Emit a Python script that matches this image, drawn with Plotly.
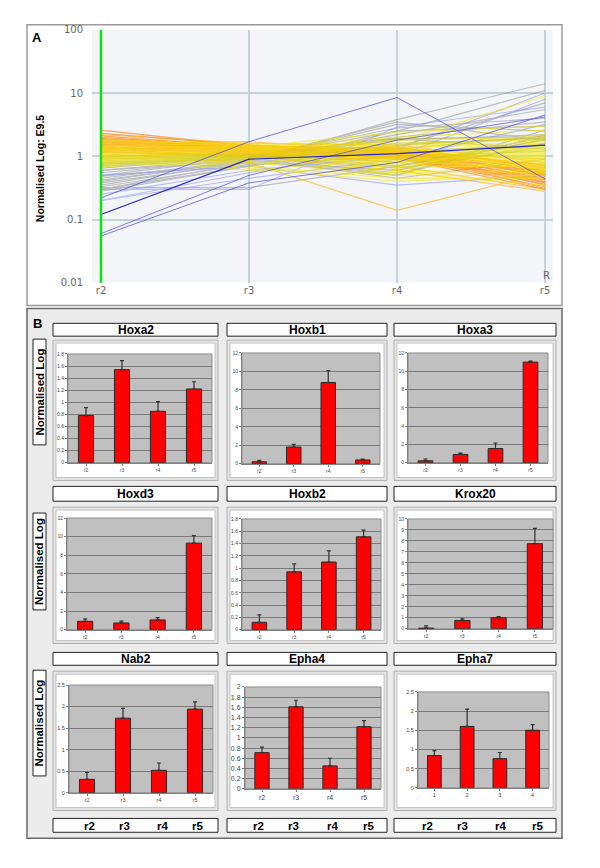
import plotly.graph_objects as go

# page body has an 8px default margin: the figure covers page pixels 8..592 x 8..860
OFF = 8
FW, FH = 584, 852


def px(x):
    return (x - OFF) / FW


def py(y):
    return 1 - (y - OFF) / FH


# ---------------- Panel A data (normalised expression r2, r3, r4, r5) ----------------
regions = ["r2", "r3", "r4", "r5"]
a_ticks = [0.01, 0.1, 1, 10, 100]
a_ticktext = ["0.01", "0.1", "1", "10", "100"]

gray_lines = [
    [0.8, 1.0, 1.8, 2.2], [0.75, 0.95, 2.5, 3.0], [0.7, 0.9, 3.2, 2.5],
    [0.65, 1.0, 2.0, 3.5], [0.6, 0.85, 1.5, 2.0], [0.55, 0.9, 3.5, 1.8],
    [0.5, 0.95, 2.8, 4.0], [0.48, 0.8, 1.2, 1.5], [0.45, 0.88, 0.55, 1.6],
    [0.42, 0.85, 0.5, 2.2], [0.4, 0.9, 1.9, 1.3], [0.38, 0.8, 0.6, 1.9],
    [0.35, 0.85, 2.2, 5.5], [0.33, 0.75, 1.0, 1.2], [0.32, 0.32, 0.7, 2.0],
    [0.3, 0.7, 1.4, 7.0], [0.3, 0.8, 3.8, 14.0], [0.28, 0.7, 2.5, 11.0],
    [0.6, 0.95, 0.45, 0.9], [0.7, 1.05, 0.5, 2.6],
]
lightblue_lines = [
    [0.25, 0.6, 1.0, 8.0], [0.2, 0.55, 1.3, 10.0], [0.3, 0.3, 2.9, 6.0],
    [0.5, 0.7, 0.35, 0.5], [0.2, 0.45, 0.9, 3.2],
]
blue_lines = [
    [0.22, 1.7, 8.5, 0.44], [0.055, 0.38, 0.8, 4.5], [0.06, 0.5, 1.8, 4.2],
]
darkblue_lines = [
    [0.12, 0.9, 1.1, 1.5],
]
orange_lines = [
    [2.6, 1.45, 1.3, 0.72], [2.3, 1.5, 1.25, 0.6], [2.1, 1.4, 1.2, 0.55],
    [2.0, 1.35, 1.35, 0.5], [1.9, 1.3, 1.15, 0.45], [1.85, 1.45, 1.3, 0.42],
    [1.8, 1.25, 1.1, 0.38], [1.75, 1.2, 1.25, 0.35], [1.7, 1.3, 1.0, 0.33],
    [1.65, 1.15, 1.2, 0.31], [1.6, 1.2, 1.4, 0.65], [1.55, 1.1, 0.95, 0.3],
    [1.5, 1.25, 1.15, 0.4], [1.45, 1.05, 1.3, 0.48], [1.4, 1.15, 1.05, 0.36],
    [1.35, 1.1, 1.2, 0.52], [1.3, 1.0, 0.9, 0.44], [1.25, 1.2, 1.1, 0.58],
    [1.2, 0.95, 1.25, 0.5], [1.15, 1.05, 1.0, 0.39],
]
lightorange_lines = [
    [2.2, 1.6, 1.5, 0.8], [1.9, 1.5, 1.1, 0.7], [1.7, 1.4, 1.3, 0.62],
    [1.6, 1.3, 0.9, 0.55], [1.5, 1.5, 1.2, 0.75], [1.4, 1.25, 0.8, 0.5],
    [1.3, 1.35, 1.4, 0.68], [1.2, 1.1, 1.0, 0.6], [1.1, 0.8, 0.14, 0.55],
    [1.0, 1.2, 0.7, 0.3], [0.9, 1.0, 0.6, 0.28], [1.6, 1.7, 1.2, 0.9],
]
yellow_lines = [
    [1.6, 1.5, 1.3, 1.1], [1.5, 1.4, 1.1, 0.9], [1.45, 1.35, 0.9, 1.3],
    [1.4, 1.3, 1.2, 0.8], [1.35, 1.45, 1.0, 1.5], [1.3, 1.2, 0.8, 1.2],
    [1.25, 1.3, 1.4, 0.7], [1.2, 1.1, 0.7, 1.0], [1.15, 1.25, 1.6, 1.8],
    [1.1, 1.2, 0.95, 0.85], [1.05, 1.15, 1.1, 1.4], [1.0, 1.1, 0.65, 0.75],
    [0.98, 1.3, 1.8, 2.0], [0.95, 1.05, 0.85, 1.15], [0.92, 1.2, 1.25, 0.65],
    [0.9, 1.0, 0.75, 0.95], [0.88, 1.15, 1.5, 1.6], [0.85, 0.95, 0.6, 0.55],
    [0.82, 1.1, 1.05, 1.25], [0.8, 0.9, 0.9, 0.8], [0.78, 1.05, 1.35, 1.7],
    [0.75, 0.85, 0.55, 0.6], [0.72, 1.0, 1.15, 1.05], [0.7, 0.8, 0.5, 0.5],
    [1.7, 1.6, 1.0, 0.7], [1.8, 1.55, 1.3, 0.9], [1.28, 0.7, 0.45, 0.45],
    [1.12, 0.65, 0.4, 0.5], [0.95, 0.6, 0.55, 0.35], [1.0, 1.35, 2.0, 2.6],
    [1.2, 1.4, 2.4, 3.0], [0.9, 1.25, 1.7, 9.0],
    [1.05, 1.2, 1.2, 1.3], [0.97, 1.15, 1.0, 1.1], [0.9, 1.1, 0.9, 1.0],
    [0.86, 1.05, 1.2, 1.45], [1.1, 1.3, 1.3, 1.2], [1.18, 1.35, 1.1, 0.95],
    [1.22, 1.25, 0.85, 0.9], [0.8, 1.0, 1.1, 1.35], [0.76, 0.95, 0.8, 1.1],
    [1.0, 1.25, 1.45, 1.9], [0.93, 1.18, 0.7, 0.7], [1.08, 1.4, 1.6, 1.3],
    [0.84, 1.08, 0.98, 1.6], [1.14, 1.12, 0.92, 0.62], [0.68, 0.9, 1.0, 1.2],
    [1.3, 1.5, 1.2, 1.0], [0.74, 1.12, 1.25, 2.2], [1.02, 0.92, 0.78, 0.72],
]
olive_lines = [
    [0.9, 1.05, 1.9, 2.0], [0.85, 1.0, 0.7, 1.8], [1.0, 1.1, 0.8, 1.6],
    [0.75, 0.95, 1.3, 2.1], [0.95, 1.0, 0.65, 1.4], [0.8, 0.9, 1.6, 1.9],
]

# ---------------- Panel B data (bar charts) ----------------
genes = ["Hoxa2", "Hoxb1", "Hoxa3", "Hoxd3", "Hoxb2", "Krox20", "Nab2", "Epha4", "Epha7"]
hoxa2_vals = [0.78, 1.54, 0.85, 1.22]
hoxa2_err = [0.13, 0.15, 0.16, 0.12]
hoxb1_vals = [0.2, 1.8, 8.8, 0.4]
hoxb1_err = [0.15, 0.3, 1.3, 0.1]
hoxa3_vals = [0.2, 0.9, 1.55, 11.0]
hoxa3_err = [0.2, 0.15, 0.6, 0.1]
hoxd3_vals = [0.9, 0.72, 1.05, 9.3]
hoxd3_err = [0.25, 0.2, 0.25, 0.8]
hoxb2_vals = [0.12, 0.94, 1.1, 1.51]
hoxb2_err = [0.12, 0.13, 0.18, 0.11]
krox20_vals = [0.05, 0.75, 1.0, 7.75]
krox20_err = [0.2, 0.15, 0.1, 1.4]
nab2_vals = [0.31, 1.73, 0.52, 1.94]
nab2_err = [0.16, 0.23, 0.17, 0.17]
epha4_vals = [0.71, 1.61, 0.45, 1.22]
epha4_err = [0.11, 0.13, 0.15, 0.12]
epha7_vals = [0.84, 1.6, 0.76, 1.5]
epha7_err = [0.13, 0.45, 0.16, 0.15]
epha7_labels = ["1", "2", "3", "4"]

bar_vals = [hoxa2_vals, hoxb1_vals, hoxa3_vals, hoxd3_vals, hoxb2_vals,
            krox20_vals, nab2_vals, epha4_vals, epha7_vals]
bar_errs = [hoxa2_err, hoxb1_err, hoxa3_err, hoxd3_err, hoxb2_err,
            krox20_err, nab2_err, epha4_err, epha7_err]
y_max = [1.8, 12, 12, 12, 1.8, 10, 2.5, 2, 2.5]
y_step = [0.2, 2, 2, 2, 0.2, 1, 0.5, 0.2, 0.5]
x_labels = [regions] * 8 + [epha7_labels]

# ---------------- layout geometry (page pixels) ----------------
FONT = "Arial, Liberation Sans, sans-serif"
cols = [(53, 218), (227, 387), (394, 556)]
rows = [(322, 335, 339, 481), (487, 502, 508, 646), (655, 668, 674, 815)]
plot_boxes = [
    (68, 353, 212, 463), (242, 352, 380, 464), (408, 352, 548, 463),
    (67, 519, 212, 632), (242, 520, 381, 632), (408, 520, 553, 631),
    (69, 688, 213, 797), (245, 690, 381, 793), (418, 695, 549, 792),
]
tick_size = [5, 5, 5, 5, 5, 5, 5.5, 7, 5.5]

A_plot = (92, 25, 553, 281)

fig = go.Figure()
shapes = []
annotations = []


def note(text, x, y, size, color="black", family=FONT, angle=0):
    annotations.append(dict(text=text, x=px(x), y=py(y), xref="paper", yref="paper", showarrow=False,
                            xanchor="center", yanchor="middle", textangle=angle,
                            font=dict(family=family, size=size, color=color)))


def rect(x0, y0, x1, y1, fill, line_color=None, lw=1):
    shapes.append(dict(type="rect", xref="paper", yref="paper", x0=px(x0), x1=px(x1), y0=py(y1), y1=py(y0),
                       fillcolor=fill, line=dict(color=line_color or fill, width=lw if line_color else 0),
                       layer="below"))


# panel frames
rect(27, 20, 562, 304, "white", "#9a9a9a", 1.5)
rect(A_plot[0], A_plot[1], A_plot[2], A_plot[3], "#f3f5f8")
rect(27, 307, 562, 843, "#ececec", "#6a6a6a", 1.5)


# Panel A traces
def build(lines):
    xs, ys = [], []
    for ln in lines:
        xs += [0, 1, 2, 3, None]
        ys += list(ln) + [None]
    return xs, ys


groups = [
    (gray_lines, "rgb(120,120,120)", 0.45, 1.1),
    (lightblue_lines, "rgb(140,140,255)", 0.55, 1.1),
    (orange_lines, "rgb(255,110,0)", 0.6, 1.2),
    (lightorange_lines, "rgb(255,175,0)", 0.6, 1.2),
    (olive_lines, "rgb(170,170,60)", 0.5, 1.2),
    (yellow_lines, "rgb(245,235,0)", 0.55, 1.3),
    (blue_lines, "rgb(70,70,235)", 0.7, 1),
    (darkblue_lines, "rgb(30,30,210)", 0.95, 1.2),
]
for lines, color, op, w in groups:
    xs, ys = build(lines)
    fig.add_trace(go.Scatter(x=xs, y=ys, mode="lines", line=dict(color=color, width=w),
                             opacity=op, xaxis="x", yaxis="y", hoverinfo="skip", connectgaps=False))

layout_axes = {}
layout_axes["xaxis"] = dict(domain=[px(A_plot[0]), px(A_plot[2])], anchor="y",
                            range=[-9 / 148, 3 + 8 / 148], tickvals=[0, 1, 2, 3], ticktext=regions,
                            showgrid=True, gridcolor="#c3d5d6", gridwidth=1.5, zeroline=False,
                            showline=False, ticks="", tickfont=dict(family="DejaVu Sans", size=10, color="#666"))
layout_axes["yaxis"] = dict(domain=[py(A_plot[3]), py(A_plot[1])], anchor="x", type="log",
                            range=[-2, 2], tickvals=a_ticks, ticktext=a_ticktext,
                            showgrid=True, gridcolor="#c3d5d6", gridwidth=1.5, zeroline=False,
                            showline=False, ticks="", ticklabelstandoff=8,
                            tickfont=dict(family="DejaVu Sans", size=10, color="#666"))
shapes.append(dict(type="line", xref="x", yref="y domain", x0=0, x1=0, y0=0, y1=1,
                   line=dict(color="#10e010", width=2.5), layer="above"))

note("<b>A</b>", 37, 33, 13)
note("R", 546, 274, 10, color="#666", family="DejaVu Sans")
rect(34, 99, 46, 232, "white")
note("<b>Normalised Log: E9.5</b>", 40, 165, 10.5, angle=-90)
note("<b>B</b>", 37, 322, 13)

# Panel B frames, titles
left_boxes = [(338, 445), (514, 612), (673, 780)]
for r, (ty0, ty1, fy0, fy1) in enumerate(rows):
    ly0, ly1 = left_boxes[r]
    rect(33, ly0, 46, ly1, "white", "#222", 1)
    note("<b>Normalised Log</b>", 39.5, (ly0 + ly1) / 2, 11.5, angle=-90)
    for c, (cx0, cx1) in enumerate(cols):
        g = genes[r * 3 + c]
        rect(cx0, ty0, cx1, ty1, "white", "#222", 1)
        note("<b>%s</b>" % g, (cx0 + cx1) / 2, (ty0 + ty1) / 2 + 0.5, 12)
        rect(cx0, fy0, cx1, fy1, "#e4e4e4", "#b0b0b0", 1)
        rect(cx0 + 3, fy0 + 3, cx1 - 3, fy1 - 3, "white", "#c4c4c4", 1)

# bottom region label boxes
label_x = [[89, 124, 162, 197], [258, 293, 332, 368], [427, 462, 500, 537]]
for c, (cx0, cx1) in enumerate(cols):
    rect(cx0, 823, cx1, 837, "white", "#222", 1)
    for k, lab in enumerate(regions):
        note("<b>%s</b>" % lab, label_x[c][k], 830.5, 11.5)

# bar charts
for i in range(9):
    n = i + 2
    x0, y0, x1, y1 = plot_boxes[i]
    rect(x0, y0, x1, y1, "#c0c0c0", "#8c8c8c", 1)
    fig.add_trace(go.Bar(
        x=x_labels[i], y=bar_vals[i], width=0.42,
        marker=dict(color="#ff0000", line=dict(color="#2a2a2a", width=1)),
        error_y=dict(type="data", symmetric=False, array=bar_errs[i], arrayminus=[0, 0, 0, 0],
                     color="#303030", thickness=1.2, width=2),
        xaxis="x%d" % n, yaxis="y%d" % n, hoverinfo="skip"))
    layout_axes["xaxis%d" % n] = dict(domain=[px(x0), px(x1)], anchor="y%d" % n, type="category",
                                      range=[-0.5, 3.5], showgrid=False, zeroline=False, showline=True,
                                      linecolor="#808080", linewidth=1, ticks="outside", ticklen=2,
                                      tickcolor="#808080",
                                      tickfont=dict(family=FONT, size=tick_size[i], color="#444"))
    layout_axes["yaxis%d" % n] = dict(domain=[py(y1), py(y0)], anchor="x%d" % n, range=[0, y_max[i]],
                                      dtick=y_step[i], tick0=0, showgrid=True, gridcolor="#7a7a7a",
                                      gridwidth=1, zeroline=False, showline=True, linecolor="#808080",
                                      linewidth=1, ticks="outside", ticklen=2, tickcolor="#808080",
                                      tickfont=dict(family=FONT, size=tick_size[i], color="#444"))

fig.update_layout(
    width=FW, height=FH, margin=dict(l=0, r=0, t=0, b=0),
    paper_bgcolor="white", plot_bgcolor="rgba(0,0,0,0)", showlegend=False,
    shapes=shapes, annotations=annotations, **layout_axes,
)

fig.write_html("out.html")
